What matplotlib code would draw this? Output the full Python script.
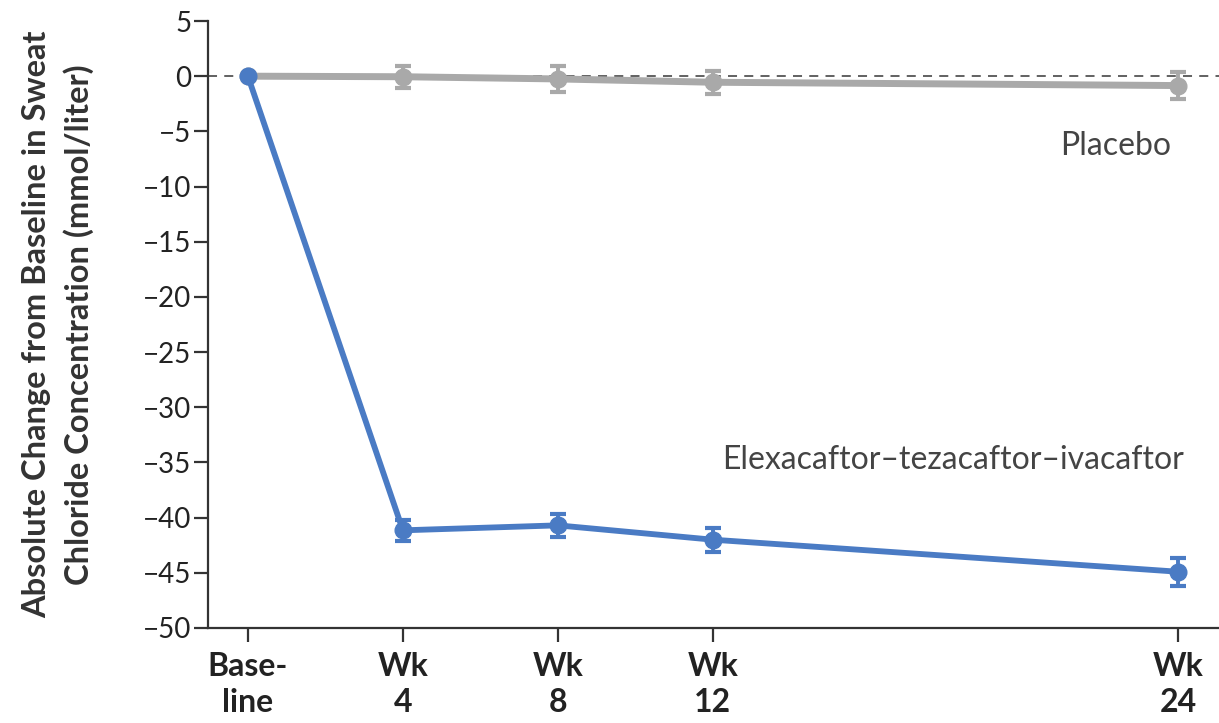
import matplotlib.pyplot as plt

# data
weeks = [0, 4, 8, 12, 24]
tick_labels = ["Base-\nline", "Wk\n4", "Wk\n8", "Wk\n12", "Wk\n24"]
eti_mean = [0, -41.15, -40.7, -42.0, -44.9]
eti_err = [0, 0.95, 1.05, 1.1, 1.25]
pbo_mean = [0, -0.05, -0.25, -0.55, -0.85]
pbo_err = [0, 1.0, 1.2, 1.05, 1.2]
yticks = list(range(-50, 10, 5))

blue = "#4a7bc4"
gray = "#a9a9a9"
dark = "#333333"

plt.rcParams['font.family'] = ['Lato', 'DejaVu Sans']

fig = plt.figure(figsize=(12.19, 7.23), dpi=100)
ax = fig.add_axes([208 / 1219, 1 - 628 / 723, 1 - 208 / 1219, (628 - 21) / 723])

# reference line at zero
ax.axhline(0, color="#555555", lw=1.3, ls=(0, (5, 4)), zorder=1)

ax.errorbar(weeks, pbo_mean, yerr=pbo_err, color=gray, lw=5, marker="o",
            markersize=12, capsize=6, capthick=3, elinewidth=2.8, zorder=2)
ax.errorbar(weeks, eti_mean, yerr=eti_err, color=blue, lw=4.2, marker="o",
            markersize=12, capsize=6, capthick=3, elinewidth=2.8, zorder=3)

ax.set_xlim(-1.03, 25.06)
ax.set_ylim(-50, 5)
ax.set_yticks(yticks)
ax.set_yticklabels([str(v).replace("-", "\u2212") for v in yticks])
ax.set_xticks(weeks)
ax.set_xticklabels(tick_labels, fontweight="bold", linespacing=1.3)

for s in ["top", "right"]:
    ax.spines[s].set_visible(False)
for s in ["left", "bottom"]:
    ax.spines[s].set_color(dark)
    ax.spines[s].set_linewidth(1.6)
ax.tick_params(axis="y", length=10, width=1.6, color=dark, labelsize=20,
               labelcolor="#222222", pad=2)
ax.tick_params(axis="x", length=10, width=1.6, color=dark, labelsize=23,
               labelcolor="#222222", pad=7)

ax.set_ylabel("Absolute Change from Baseline in Sweat\nChloride Concentration (mmol/liter)",
              fontsize=23.5, fontweight="bold", color="#333333", linespacing=1.45)
ax.yaxis.set_label_coords(-0.113, 0.5)

ax.text(22.4, -6.3, "Placebo", fontsize=23, color="#444444", ha="center", va="center")
ax.text(18.2, -34.75, "Elexacaftor\u2013tezacaftor\u2013ivacaftor", fontsize=23,
        color="#444444", ha="center", va="center")

fig.savefig("out.png", dpi=100)
